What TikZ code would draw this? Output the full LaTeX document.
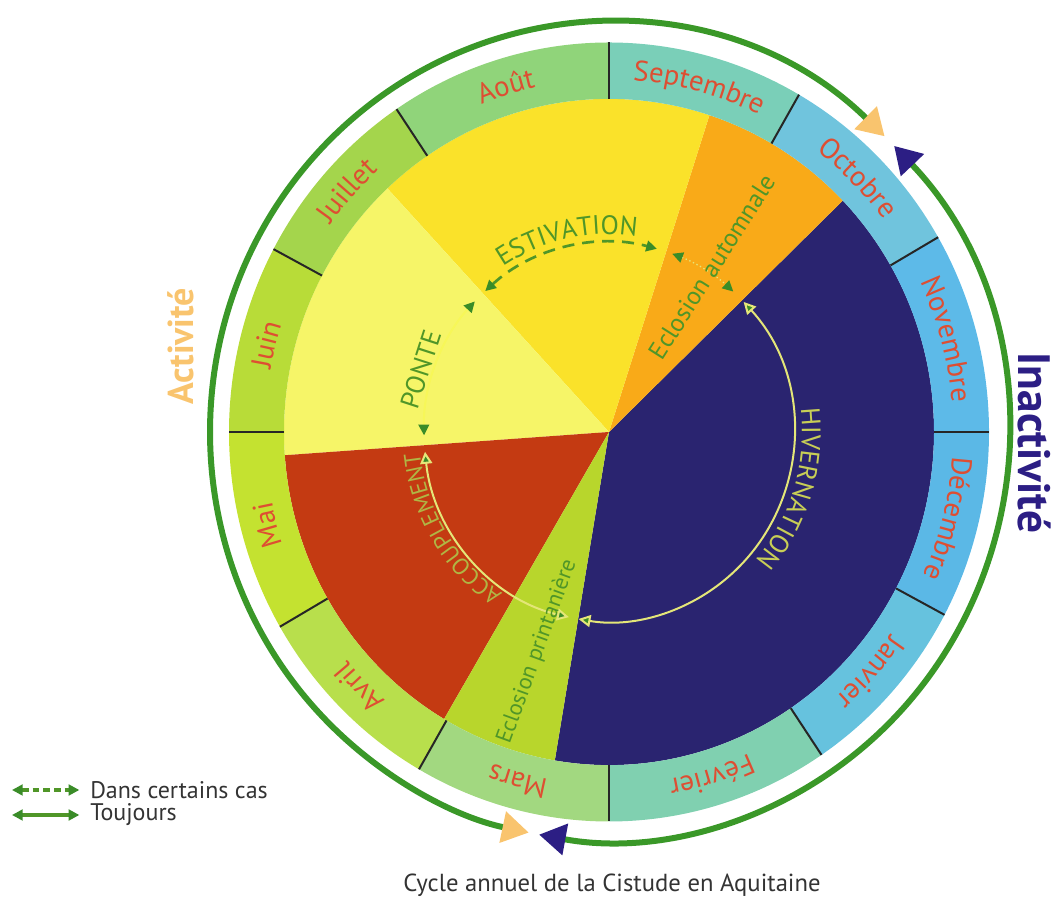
\documentclass[tikz,border=0pt]{standalone}
\usepackage{fontspec}
\setmainfont{PT Sans}
\usetikzlibrary{arrows.meta,decorations.text}

\definecolor{navyfill}{RGB}{42,36,112}
\definecolor{orangefill}{RGB}{249,170,24}
\definecolor{yellowfill}{RGB}{250,226,42}
\definecolor{palefill}{RGB}{246,245,104}
\definecolor{redfill}{RGB}{196,58,18}
\definecolor{springfill}{RGB}{184,214,44}
\definecolor{monthred}{RGB}{222,78,50}
\definecolor{ringgreen}{RGB}{58,152,40}
\definecolor{peach}{RGB}{249,196,110}
\definecolor{navytip}{RGB}{44,30,132}
\definecolor{tipgreen}{RGB}{58,140,40}
\definecolor{estgreen}{RGB}{80,150,40}
\definecolor{paleline}{RGB}{228,230,120}
\definecolor{hivtext}{RGB}{200,206,86}
\definecolor{acctext}{RGB}{176,182,68}

\definecolor{aoutfill}{HTML}{90D47A}
\definecolor{sepfill}{HTML}{7ACFB8}
\definecolor{octfill}{HTML}{70C4DD}
\definecolor{novfill}{HTML}{5DBAE8}
\definecolor{decfill}{HTML}{5BB8E6}
\definecolor{janfill}{HTML}{66C2DE}
\definecolor{febfill}{HTML}{80D0B0}
\definecolor{marfill}{HTML}{A2D880}
\definecolor{avrfill}{HTML}{B8DF4C}
\definecolor{maifill}{HTML}{C4E230}
\definecolor{juinfill}{HTML}{B8DC38}
\definecolor{juilfill}{HTML}{A4D54C}

\newcommand\monthfont{\fontsize{21.5}{21.5}\selectfont}
\newcommand\innerfont{\fontsize{20}{20}\selectfont}
\newcommand\accfont{\fontsize{17.5}{17.5}\selectfont}

\tikzset{
  monthsep/.style={draw=black!85, line width=1.5pt},
  monthlabel/.style={decorate, decoration={text along path, text align=center, text color=monthred, text={|\monthfont|#1}}},
  innerlabel/.style 2 args={decorate, decoration={text along path, text align=center, text color=#1, text={|\innerfont|#2}}},
  tipdark/.style={arrows={Triangle[length=8pt,width=8pt,color=tipgreen]-Triangle[length=8pt,width=8pt,color=tipgreen]}},
  tipopen/.style={arrows={Triangle[length=9pt,width=9pt,fill=tipgreen,color=paleline]-Triangle[length=9pt,width=9pt,fill=tipgreen,color=paleline]}},
  peachtips/.style={arrows={Triangle[length=20pt,width=23pt,color=peach]-Triangle[length=20pt,width=23pt,color=peach]}},
  navytips/.style={arrows={Triangle[length=20pt,width=23pt,color=navytip]-Triangle[length=20pt,width=23pt,color=navytip]}},
  legendtext/.style={anchor=west, inner sep=0pt, text=black!80, font=\fontsize{18}{18}\selectfont}
}

\begin{document}
\begin{tikzpicture}[x=0.75pt, y=0.75pt]

\useasboundingbox (0,0) rectangle (1055,902);

\begin{scope}[shift={(609,470)}, yscale=1.025]

% phases
\fill[navyfill] (0,0) -- (44:325) arc[start angle=44, end angle=-99.6, radius=325] -- cycle;
\fill[orangefill] (0,0) -- (72:325) arc[start angle=72, end angle=44, radius=325] -- cycle;
\fill[yellowfill] (0,0) -- (133:325) arc[start angle=133, end angle=72, radius=325] -- cycle;
\fill[palefill] (0,0) -- (184:325) arc[start angle=184, end angle=133, radius=325] -- cycle;
\fill[redfill] (0,0) -- (239.5:325) arc[start angle=239.5, end angle=184, radius=325] -- cycle;
\fill[springfill] (0,0) -- (260.4:325) arc[start angle=260.4, end angle=239.5, radius=325] -- cycle;

% months
\fill[novfill] (0:325) arc[start angle=0, end angle=30, radius=325] -- (30:380) arc[start angle=30, end angle=0, radius=380] -- cycle;
\fill[octfill] (30:325) arc[start angle=30, end angle=60, radius=325] -- (60:380) arc[start angle=60, end angle=30, radius=380] -- cycle;
\fill[sepfill] (60:325) arc[start angle=60, end angle=90, radius=325] -- (90:380) arc[start angle=90, end angle=60, radius=380] -- cycle;
\fill[aoutfill] (90:325) arc[start angle=90, end angle=124, radius=325] -- (124:380) arc[start angle=124, end angle=90, radius=380] -- cycle;
\fill[juilfill] (124:325) arc[start angle=124, end angle=152, radius=325] -- (152:380) arc[start angle=152, end angle=124, radius=380] -- cycle;
\fill[juinfill] (152:325) arc[start angle=152, end angle=180, radius=325] -- (180:380) arc[start angle=180, end angle=152, radius=380] -- cycle;
\fill[maifill] (180:325) arc[start angle=180, end angle=210, radius=325] -- (210:380) arc[start angle=210, end angle=180, radius=380] -- cycle;
\fill[avrfill] (210:325) arc[start angle=210, end angle=240, radius=325] -- (240:380) arc[start angle=240, end angle=210, radius=380] -- cycle;
\fill[marfill] (240:325) arc[start angle=240, end angle=270, radius=325] -- (270:380) arc[start angle=270, end angle=240, radius=380] -- cycle;
\fill[febfill] (270:325) arc[start angle=270, end angle=304, radius=325] -- (304:380) arc[start angle=304, end angle=270, radius=380] -- cycle;
\fill[janfill] (304:325) arc[start angle=304, end angle=332, radius=325] -- (332:380) arc[start angle=332, end angle=304, radius=380] -- cycle;
\fill[decfill] (332:325) arc[start angle=332, end angle=360, radius=325] -- (360:380) arc[start angle=360, end angle=332, radius=380] -- cycle;

\draw[monthsep] (0:325) -- (0:380);
\draw[monthsep] (30:325) -- (30:380);
\draw[monthsep] (60:325) -- (60:380);
\draw[monthsep] (90:325) -- (90:380);
\draw[monthsep] (124:325) -- (124:380);
\draw[monthsep] (152:325) -- (152:380);
\draw[monthsep] (180:325) -- (180:380);
\draw[monthsep] (210:325) -- (210:380);
\draw[monthsep] (240:325) -- (240:380);
\draw[monthsep] (270:325) -- (270:380);
\draw[monthsep] (304:325) -- (304:380);
\draw[monthsep] (332:325) -- (332:380);

\path[monthlabel=Novembre] (30:344) arc[start angle=30, end angle=0, radius=344];
\path[monthlabel=Octobre] (60:344) arc[start angle=60, end angle=30, radius=344];
\path[monthlabel=Septembre] (90:344) arc[start angle=90, end angle=60, radius=344];
\path[monthlabel=Août] (124:344) arc[start angle=124, end angle=90, radius=344];
\path[monthlabel=Juillet] (152:344) arc[start angle=152, end angle=124, radius=344];
\path[monthlabel=Juin] (180:344) arc[start angle=180, end angle=152, radius=344];
\path[monthlabel=Mai] (210:344) arc[start angle=210, end angle=180, radius=344];
\path[monthlabel=Avril] (240:344) arc[start angle=240, end angle=210, radius=344];
\path[monthlabel=Mars] (270:344) arc[start angle=270, end angle=240, radius=344];
\path[monthlabel=Février] (304:344) arc[start angle=304, end angle=270, radius=344];
\path[monthlabel=Janvier] (332:344) arc[start angle=332, end angle=304, radius=344];
\path[monthlabel=Décembre] (360:344) arc[start angle=360, end angle=332, radius=344];

% cycle
\draw[paleline, line width=1.5pt, tipopen] (43.3:185) arc[start angle=43.3, end angle=-99.5, radius=185];
\draw[paleline, line width=1.5pt, tipopen] (257.5:185) arc[start angle=257.5, end angle=186, radius=185];
\draw[palefill!85!yellow, line width=1.5pt, tipdark] (181:185) arc[start angle=181, end angle=136.5, radius=185];
\draw[estgreen, line width=2pt, dash pattern=on 9pt off 6pt, tipdark] (132:185) arc[start angle=132, end angle=75, radius=185];
\draw[paleline, line width=1pt, dotted, tipdark] (70:185) arc[start angle=70, end angle=47.8, radius=185];

\path[innerlabel={estgreen}{ESTIVATION}] (133:193) arc[start angle=133, end angle=72, radius=193];
\path[innerlabel={hivtext}{HIVERNATION}] (25:193) arc[start angle=25, end angle=-59, radius=193];
\path[decorate, decoration={text along path, text align=center, text color=acctext, text={|\accfont|ACCOUPLEMENT}}] (236:190) arc[start angle=236, end angle=186, radius=190];

\node[rotate=72, text=estgreen, font=\innerfont] (ponte) at (162:198) {PONTE};
\node[rotate=57.5, text=estgreen, font=\fontsize{19}{19}\selectfont] (autumn) at (57.5:191) {Eclosion automnale};
\node[rotate=70, text=estgreen, font=\fontsize{17}{17}\selectfont] (spring) at (251.5:226) {Eclosion printanière};

% activity ring
\draw[ringgreen, line width=4.5pt, peachtips] (46.3:399) arc[start angle=46.3, end angle=258.4, radius=399];
\draw[ringgreen, line width=4.5pt, navytips] (44.4:399) arc[start angle=44.4, end angle=-100.1, radius=399];

\end{scope}

\node[rotate=90, text=peach, font=\bfseries\fontsize{27}{27}\selectfont] (act) at (181,556) {Activité};
\node[rotate=-90, text=navytip, font=\bfseries\fontsize{34}{34}\selectfont] (inact) at (1034,459) {Inactivité};

\node[legendtext] (sometimes) at (90,112) {Dans certains cas};
\node[legendtext] (always) at (90,87) {Toujours};
\coordinate (sometimesL) at (12,112);
\coordinate (alwaysL) at (12,87);
\draw[estgreen, line width=2.5pt, dash pattern=on 5pt off 3pt, tipdark] (sometimesL) -- ([xshift=-8pt]sometimes.west);
\draw[estgreen, line width=2.5pt, tipdark] (alwaysL) -- ([xshift=-8pt]always.west);

\node[text=black!80, font=\fontsize{18.5}{18.5}\selectfont] (title) at (612,17) {Cycle annuel de la Cistude en Aquitaine};

\end{tikzpicture}
\end{document}
